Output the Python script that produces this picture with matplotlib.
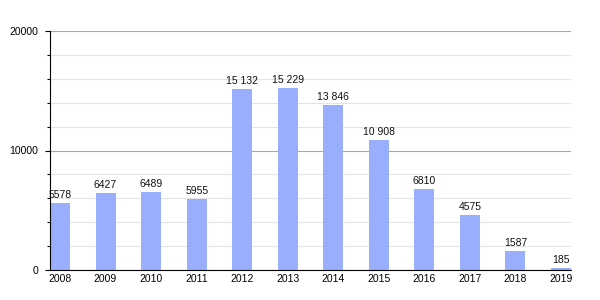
import matplotlib
matplotlib.use("Agg")
import matplotlib.pyplot as plt
from matplotlib.ticker import MultipleLocator, FixedLocator

plt.rcParams["font.family"] = ["Liberation Sans", "DejaVu Sans"]

years = ["2008", "2009", "2010", "2011", "2012", "2013", "2014", "2015", "2016", "2017", "2018", "2019"]
values = [5578, 6427, 6489, 5955, 15132, 15229, 13846, 10908, 6810, 4575, 1587, 185]
value_labels = ["5578", "6427", "6489", "5955", "15 132", "15 229", "13 846", "10 908", "6810", "4575", "1587", "185"]
y_ticks = [0, 10000, 20000]
y_tick_labels = ["0", "10000", "20000"]

fig = plt.figure(figsize=(6, 3), dpi=100)
ax = fig.add_axes([50/600, 0.1, 521/600, 239/300])

x = list(range(len(years)))
ax.bar(x, values, width=0.44, color="#9aaefe", zorder=3)
for xi, v, lab in zip(x, values, value_labels):
    ax.text(xi, v + 250, lab, ha="center", va="bottom", fontsize=7.5, color="#111111", zorder=4)

ax.set_xlim(-0.22, 11.22)
ax.set_ylim(0, 20000)
ax.set_xticks(x)
ax.set_xticklabels(years, fontsize=7.5)
ax.yaxis.set_major_locator(FixedLocator(y_ticks))
ax.yaxis.set_minor_locator(MultipleLocator(2000))
ax.set_yticklabels(y_tick_labels, fontsize=7.5)
ax.tick_params(axis="x", length=0, pad=3)
ax.tick_params(axis="y", which="major", length=3.5, width=0.8, pad=5)
ax.tick_params(axis="y", which="minor", length=2, width=0.8)
ax.grid(axis="y", which="major", color="#a8a8a8", linewidth=0.8, zorder=1)
ax.grid(axis="y", which="minor", color="#e4e4e4", linewidth=0.8, zorder=1)
for s in ["top", "right"]:
    ax.spines[s].set_visible(False)
ax.spines["left"].set_color("black")
ax.spines["bottom"].set_color("black")
ax.spines["left"].set_zorder(5)
ax.spines["bottom"].set_zorder(5)

fig.savefig("out.png", dpi=100)
